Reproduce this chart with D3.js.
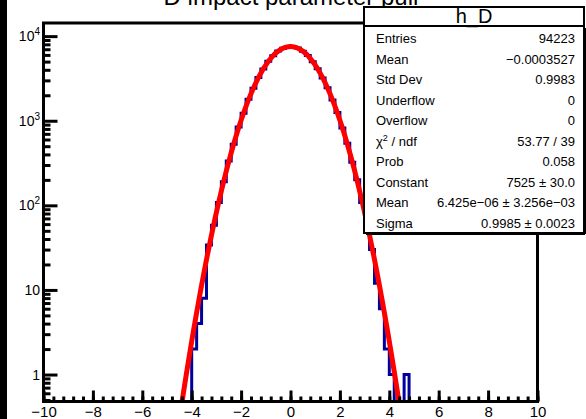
<!DOCTYPE html>
<html>
<head>
<meta charset="utf-8">
<script src="https://cdn.jsdelivr.net/npm/d3@7"></script>
<style>
  body { margin: 0; background: #fff; }
  svg { display: block; font-family: "Liberation Sans", Arial, sans-serif; }
</style>
</head>
<body>
<svg id="chart" width="586" height="419"></svg>
<script>
// histogram h_D : bins of 0.2 from -10 to 10, only the filled ones listed
const binStart = -4.4;
const binWidth = 0.2;
const counts = [
  0, 0, 2, 4, 8, 34, 58, 108, 190, 335,
  528, 842, 1226, 1790, 2420, 3251, 4087, 5042, 5862, 6668,
  7170, 7510, 7466, 7220, 6615, 5911, 4996, 4130, 3210, 2462,
  1758, 1251, 818, 541, 322, 200, 108, 58, 30, 12,
  6, 2, 1, 0, 0, 1
];

// gaussian fit parameters (from the stats box)
const fitConstant = 7525;
const fitMean = 6.425e-06;
const fitSigma = 0.9985;

const xTicks = [-10, -8, -6, -4, -2, 0, 2, 4, 6, 8, 10];
const yDecades = [1, 10, 100, 1000, 10000];

const statLabels = ['Entries', 'Mean', 'Std Dev', 'Underflow', 'Overflow', 'chi2', 'Prob', 'Constant', 'Mean', 'Sigma'];
const statValues = ['94223', '\u22120.0003527', '0.9983', '0', '0', '53.77 / 39', '0.058',
  '7525 \u00b1 30.0', '6.425e\u221206 \u00b1 3.256e\u221203', '0.9985 \u00b1 0.0023'];

const svg = d3.select('#chart');

// frame
const pL = 43.5, pR = 537.5, pT = 23, pB = 401.5;

const x = d3.scaleLinear().domain([-10, 10]).range([pL, pR]);
const y = d3.scaleLog().domain([0.48, 14300]).range([pB, pT]);

// black strip on the left edge of the canvas
svg.append('rect').attr('x', 0).attr('y', 0).attr('width', 7).attr('height', 419).attr('fill', '#000');

// title (mostly cut off at the top)
svg.append('text')
  .attr('x', 291).attr('y', 5)
  .attr('text-anchor', 'middle')
  .attr('font-size', 24)
  .attr('fill', '#000')
  .text('D impact parameter pull');

svg.append('clipPath').attr('id', 'plotClip')
  .append('rect').attr('x', pL).attr('y', pT).attr('width', pR - pL).attr('height', pB - pT);

const plot = svg.append('g').attr('clip-path', 'url(#plotClip)');

// histogram outline, full range -10..10
const nBins = 100;
const allBins = d3.range(nBins).map(i => {
  const lo = -10 + i * binWidth;
  const k = Math.round((lo - binStart) / binWidth);
  const c = (k >= 0 && k < counts.length) ? counts[k] : 0;
  return { lo, hi: lo + binWidth, c };
});
const yc = c => c > 0 ? y(c) : pB + 10;
let pathD = `M${x(-10)},${pB + 10}`;
allBins.forEach(b => {
  pathD += ` L${x(b.lo)},${yc(b.c)} L${x(b.hi)},${yc(b.c)}`;
});
pathD += ` L${x(10)},${pB + 10}`;
plot.append('path')
  .attr('d', pathD)
  .attr('fill', 'none')
  .attr('stroke', '#00009c')
  .attr('stroke-width', 3)
  .attr('stroke-linejoin', 'miter');

// fit curve
const fitPts = d3.range(-10, 10.001, 0.02)
  .map(v => [v, fitConstant * Math.exp(-0.5 * Math.pow((v - fitMean) / fitSigma, 2))])
  .filter(p => p[1] > 0.3);
plot.append('path')
  .attr('d', d3.line().x(p => x(p[0])).y(p => y(p[1]))(fitPts))
  .attr('fill', 'none')
  .attr('stroke', '#ff0000')
  .attr('stroke-width', 5)
  .attr('stroke-linecap', 'round');

// ticks - x axis, pointing inward
const xMinor = d3.range(-10, 10.001, 0.4).map(v => +v.toFixed(1));
svg.append('g')
  .attr('transform', `translate(0,${pB})`)
  .call(d3.axisBottom(x).tickValues(xMinor).tickSize(-5).tickFormat(''))
  .call(g => g.select('.domain').remove())
  .selectAll('line').attr('stroke', '#000').attr('stroke-width', 3);

const xAxis = svg.append('g')
  .attr('transform', `translate(0,${pB})`)
  .call(d3.axisBottom(x).tickValues(xTicks).tickSize(-11).tickPadding(3).tickFormat(d3.format('d')));
xAxis.select('.domain').remove();
xAxis.selectAll('line').attr('stroke', '#000').attr('stroke-width', 3);
xAxis.selectAll('text')
  .attr('font-size', 15)
  .attr('font-family', '"Liberation Sans", Arial, sans-serif')
  .attr('fill', '#000')
  .attr('dy', '0.85em');

// y axis ticks
const yMinor = [];
[0.1, 1, 10, 100, 1000, 10000].forEach(dec => {
  for (let m = 2; m <= 9; m++) {
    const v = dec * m;
    if (v > 0.48 && v < 14300) yMinor.push(v);
  }
});
svg.append('g')
  .attr('transform', `translate(${pL},0)`)
  .call(d3.axisLeft(y).tickValues(yMinor).tickSize(-7).tickFormat(''))
  .call(g => g.select('.domain').remove())
  .selectAll('line').attr('stroke', '#000').attr('stroke-width', 3);

const yAxis = svg.append('g')
  .attr('transform', `translate(${pL},0)`)
  .call(d3.axisLeft(y).tickValues(yDecades).tickSize(-14).tickFormat(''));
yAxis.select('.domain').remove();
yAxis.selectAll('line').attr('stroke', '#000').attr('stroke-width', 3);

// y labels with exponents
yDecades.forEach(v => {
  const exp = Math.round(Math.log10(v));
  const t = svg.append('text')
    .attr('x', 40).attr('y', y(v) + 5)
    .attr('text-anchor', 'end')
    .attr('font-size', 14)
    .attr('fill', '#000');
  if (exp <= 1) {
    t.text(String(v));
  } else {
    t.append('tspan').text('10');
    t.append('tspan').attr('dy', -6).attr('font-size', 10).text(exp);
  }
});

// frame
svg.append('rect')
  .attr('x', pL).attr('y', pT)
  .attr('width', pR - pL).attr('height', pB - pT)
  .attr('fill', 'none').attr('stroke', '#000').attr('stroke-width', 3);

// stats box
const bx = 364, bw = 220;
const box = svg.append('g');
box.append('rect')
  .attr('x', bx).attr('y', 26).attr('width', bw).attr('height', 207)
  .attr('fill', '#fff').attr('stroke', '#000').attr('stroke-width', 2);
box.append('line')
  .attr('x1', bx + 2).attr('x2', bx + bw + 1).attr('y1', 234).attr('y2', 234)
  .attr('stroke', '#000').attr('stroke-width', 2);
box.append('line')
  .attr('x1', bx + bw + 1).attr('x2', bx + bw + 1).attr('y1', 28).attr('y2', 234)
  .attr('stroke', '#000').attr('stroke-width', 2);
box.append('rect')
  .attr('x', bx).attr('y', 7).attr('width', bw).attr('height', 19)
  .attr('fill', '#fff').attr('stroke', '#000').attr('stroke-width', 2);
box.append('text')
  .attr('x', bx + bw / 2).attr('y', 23)
  .attr('text-anchor', 'middle')
  .attr('font-size', 20)
  .attr('fill', '#000')
  .text('h_D');

statLabels.forEach((lab, i) => {
  const ty = 43 + i * 20.5;
  const t = box.append('text')
    .attr('x', bx + 12).attr('y', ty)
    .attr('font-size', 13)
    .attr('fill', '#000');
  if (lab === 'chi2') {
    t.append('tspan').text('\u03c7');
    t.append('tspan').attr('dy', -5).attr('font-size', 9).text('2');
    t.append('tspan').attr('dy', 5).text(' / ndf');
  } else {
    t.text(lab);
  }
  box.append('text')
    .attr('x', bx + bw - 9).attr('y', ty)
    .attr('text-anchor', 'end')
    .attr('font-size', 13)
    .attr('fill', '#000')
    .text(statValues[i]);
});
</script>
</body>
</html>
